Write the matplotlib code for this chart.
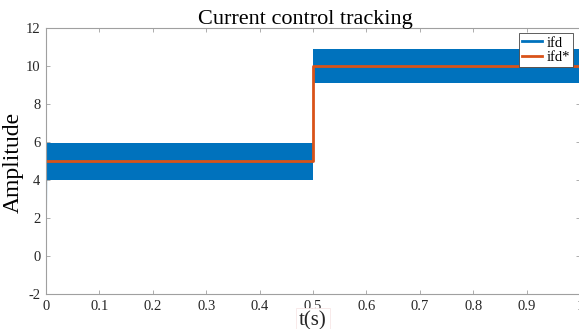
import matplotlib
matplotlib.use("Agg")
import matplotlib.pyplot as plt
from matplotlib.lines import Line2D

# ---- data ----
# startup transient of ifd (vertical rise at t=0)
ifd_start_t = [0.0, 0.0008]
ifd_start_v = [0.0, 5.9]
# ripple band of measured current ifd (segment start/end, lower/upper envelope)
band1_t = [0.0008, 0.5]
band1_lo = [4.0, 4.0]
band1_hi = [5.93, 5.93]
band2_t = [0.5, 1.0]
band2_lo = [9.08, 9.08]
band2_hi = [10.88, 10.88]
# reference current ifd*
ref_t = [0.0, 0.5, 0.5, 1.0]
ref_v = [5.0, 5.0, 10.0, 10.0]

xticks = [0, 0.1, 0.2, 0.3, 0.4, 0.5, 0.6, 0.7, 0.8, 0.9, 1]
xticklabels = ["0", "0.1", "0.2", "0.3", "0.4", "0.5", "0.6", "0.7", "0.8", "0.9", "1"]
yticks = [-2, 0, 2, 4, 6, 8, 10, 12]
yticklabels = ["-2", "0", "2", "4", "6", "8", "10", "12"]

BLUE = "#0072BD"
ORANGE = "#D95319"
SPINE = "#a0a0a0"
TXT = "#262626"

plt.rcParams["font.family"] = ["Liberation Serif", "DejaVu Serif"]

W, H = 579, 329
fig = plt.figure(figsize=(W / 100, H / 100), dpi=100)
ax = fig.add_axes([46 / W, 1 - 294 / H, (580 - 46) / W, (294 - 28) / H])

ax.plot(ifd_start_t, ifd_start_v, color=BLUE, lw=1.2)
ax.fill_between(band1_t, band1_lo, band1_hi, color=BLUE, lw=0)
ax.fill_between(band2_t, band2_lo, band2_hi, color=BLUE, lw=0)
ax.plot(ref_t, ref_v, color=ORANGE, lw=2)

ax.set_xlim(0, 1)
ax.set_ylim(-2, 12)
ax.set_xticks(xticks)
ax.set_xticklabels(xticklabels)
ax.set_yticks(yticks)
ax.set_yticklabels(yticklabels)
ax.tick_params(direction="in", length=3, width=0.6, color=SPINE,
               labelsize=10.5, labelcolor=TXT, top=True, right=True, pad=4)
for s in ax.spines.values():
    s.set_color(SPINE)
    s.set_linewidth(0.8)

ax.set_title("Current control tracking", fontsize=16, color="black", pad=3,
             x=0.485)
ax.set_xlabel("t(s)", fontsize=15, color=TXT, labelpad=-1,
              bbox=dict(facecolor="white", edgecolor="#f7e6e6", lw=0.6,
                        boxstyle="square,pad=0.15"))
ax.set_ylabel("Amplitude", fontsize=17, color="black")
ax.yaxis.set_label_coords(-0.041, 0.494)

handles = [Line2D([], [], color=BLUE, lw=2), Line2D([], [], color=ORANGE, lw=2)]
leg = ax.legend(handles, ["ifd", "ifd*"], loc="upper right",
                bbox_to_anchor=(0.99, 0.985), fontsize=10.5, frameon=True,
                fancybox=False, edgecolor="#444444", framealpha=1,
                handlelength=1.4, handletextpad=0.3, borderpad=0.2,
                labelspacing=0.1, borderaxespad=0.1)
leg.get_frame().set_linewidth(0.6)

fig.savefig("out.png", dpi=100)
